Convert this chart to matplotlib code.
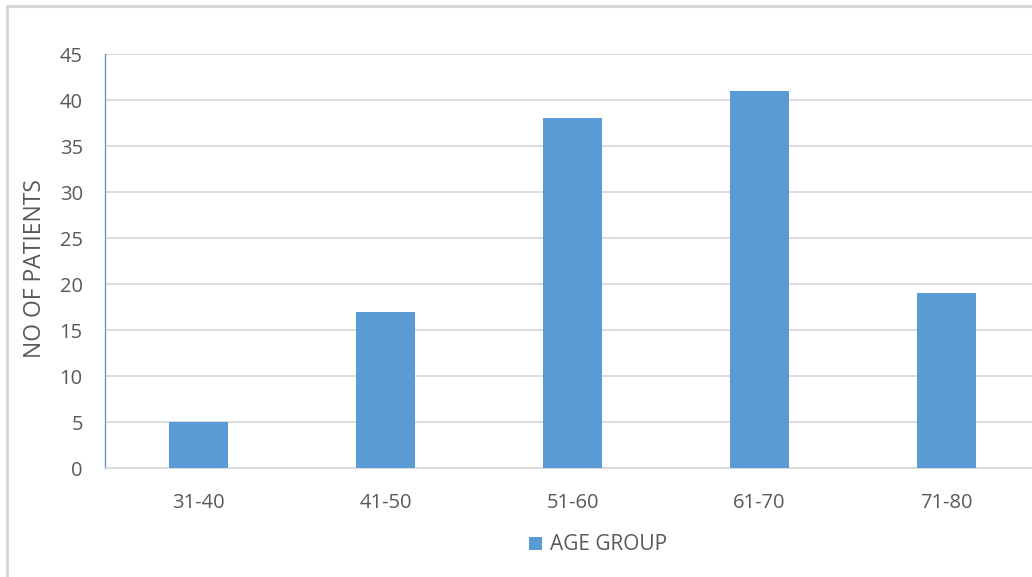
import matplotlib
matplotlib.use("Agg")
import matplotlib.pyplot as plt
from matplotlib.patches import Rectangle, Patch

# Patients per age group
age_groups = ["31-40", "41-50", "51-60", "61-70", "71-80"]
patients = [5, 17, 38, 41, 19]
y_ticks = [0, 5, 10, 15, 20, 25, 30, 35, 40, 45]

BAR = "#5b9bd5"
GRID = "#d9d9d9"
TEXT = "#595959"

plt.rcParams["font.family"] = ["Open Sans", "DejaVu Sans"]

W, H = 1032, 577
fig = plt.figure(figsize=(W / 100, H / 100), dpi=100)

# Outer chart frame (extends past the right and bottom edges)
fig.patches.append(Rectangle((7 / W, -0.05), 1.2, 1 - 6 / H + 0.05,
                             transform=fig.transFigure, fill=False,
                             edgecolor=GRID, linewidth=2.2, zorder=0))

left, right = 105, 1040
top, bottom = 54, 468
ax = fig.add_axes([left / W, 1 - bottom / H, (right - left) / W, (bottom - top) / H])

x = range(len(age_groups))
ax.bar(x, patients, width=0.315, color=BAR, zorder=3)

ax.set_xlim(-0.5, len(age_groups) - 0.5)
ax.set_ylim(0, 45)
ax.set_yticks(y_ticks)
ax.set_xticks(list(x))
ax.set_xticklabels(age_groups)
ax.grid(axis="y", color=GRID, linewidth=1.3, zorder=0)
ax.set_axisbelow(True)

for s in ("top", "right"):
    ax.spines[s].set_visible(False)
ax.spines["left"].set_color(BAR)
ax.spines["left"].set_linewidth(1.0)
ax.spines["bottom"].set_color(GRID)
ax.spines["bottom"].set_linewidth(1.3)

ax.tick_params(axis="both", length=0, colors=TEXT, labelsize=14.5)
ax.tick_params(axis="y", pad=16)
ax.tick_params(axis="x", pad=18)

fig.text(35 / W, 1 - 269 / H, "NO OF PATIENTS", rotation=90, ha="center",
         va="center", color=TEXT, fontsize=16.5)

fig.legend(handles=[Patch(facecolor=BAR, label="AGE GROUP")],
           loc="center", bbox_to_anchor=(598 / W, 1 - 545 / H),
           frameon=False, fontsize=15, labelcolor=TEXT,
           handlelength=0.6, handleheight=0.6, handletextpad=0.4)

fig.savefig("out.png", dpi=100, facecolor="white")
